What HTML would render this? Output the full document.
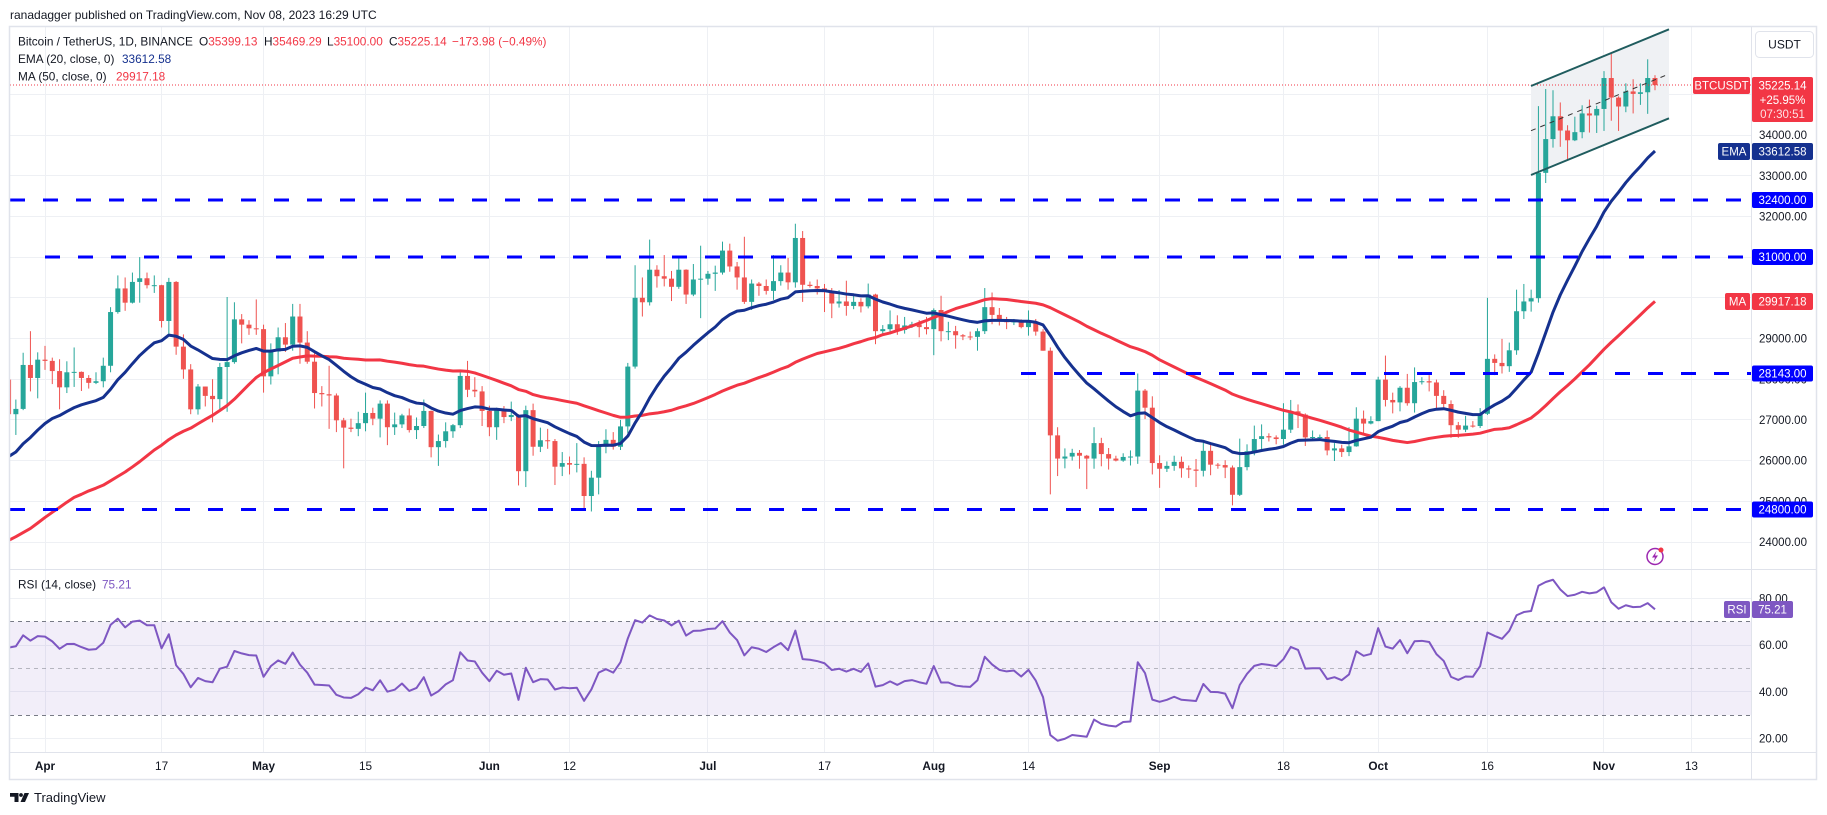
<!DOCTYPE html>
<html><head><meta charset="utf-8">
<style>
html,body{margin:0;padding:0;background:#fff;}
body{width:1827px;height:815px;overflow:hidden;position:relative;font-family:"Liberation Sans",sans-serif;color:#131722;}
svg{position:absolute;left:0;top:0;}
</style></head><body>
<svg id="c" width="1827" height="815" viewBox="0 0 1827 815" xmlns="http://www.w3.org/2000/svg" font-family="Liberation Sans, sans-serif">
<defs>
<clipPath id="pp"><rect x="10" y="27" width="1741" height="542"/></clipPath>
<clipPath id="rp"><rect x="10" y="570" width="1741" height="182"/></clipPath>
</defs>
<rect width="1827" height="815" fill="#fff"/>
<!-- grid -->
<g stroke="#eef0f4" stroke-width="1">
<line x1="10" x2="1751" y1="94.5" y2="94.5"/><line x1="10" x2="1751" y1="135.5" y2="135.5"/><line x1="10" x2="1751" y1="175.5" y2="175.5"/><line x1="10" x2="1751" y1="216.5" y2="216.5"/><line x1="10" x2="1751" y1="257.5" y2="257.5"/><line x1="10" x2="1751" y1="297.5" y2="297.5"/><line x1="10" x2="1751" y1="338.5" y2="338.5"/><line x1="10" x2="1751" y1="379.5" y2="379.5"/><line x1="10" x2="1751" y1="419.5" y2="419.5"/><line x1="10" x2="1751" y1="460.5" y2="460.5"/><line x1="10" x2="1751" y1="501.5" y2="501.5"/><line x1="10" x2="1751" y1="542.5" y2="542.5"/>
<line x1="10" x2="1751" y1="598.5" y2="598.5"/><line x1="10" x2="1751" y1="645.5" y2="645.5"/><line x1="10" x2="1751" y1="691.5" y2="691.5"/><line x1="10" x2="1751" y1="738.5" y2="738.5"/>
</g>
<g stroke="#eef0f4" stroke-width="1">
<line x1="45.5" x2="45.5" y1="27" y2="752"/><line x1="161.5" x2="161.5" y1="27" y2="752"/><line x1="263.5" x2="263.5" y1="27" y2="752"/><line x1="365.5" x2="365.5" y1="27" y2="752"/><line x1="489.5" x2="489.5" y1="27" y2="752"/><line x1="569.5" x2="569.5" y1="27" y2="752"/><line x1="707.5" x2="707.5" y1="27" y2="752"/><line x1="824.5" x2="824.5" y1="27" y2="752"/><line x1="933.5" x2="933.5" y1="27" y2="752"/><line x1="1028.5" x2="1028.5" y1="27" y2="752"/><line x1="1159.5" x2="1159.5" y1="27" y2="752"/><line x1="1283.5" x2="1283.5" y1="27" y2="752"/><line x1="1378.5" x2="1378.5" y1="27" y2="752"/><line x1="1487.5" x2="1487.5" y1="27" y2="752"/><line x1="1603.5" x2="1603.5" y1="27" y2="752"/><line x1="1691.5" x2="1691.5" y1="27" y2="752"/>
</g>
<!-- channel fill -->
<polygon points="1531,86 1669,29.3 1669,118.3 1531,175" fill="#eff1f4"/>
<g clip-path="url(#pp)">
<g id="candles"></g>
<path id="ma" fill="none" stroke="#f23645" stroke-width="3" stroke-linejoin="round"/>
<path id="ema" fill="none" stroke="#15318f" stroke-width="3" stroke-linejoin="round"/>
<!-- current price dotted -->
<line x1="10" x2="1751" y1="85" y2="85" stroke="#f23645" stroke-width="1" stroke-dasharray="1 2"/>
<!-- levels -->
<g stroke="#0000ff" stroke-width="3" stroke-dasharray="15 18">
<line x1="10" x2="1751" y1="200" y2="200"/>
<line x1="45" x2="1751" y1="257" y2="257"/>
<line x1="1021" x2="1751" y1="373.5" y2="373.5"/>
<line x1="10" x2="1751" y1="509.5" y2="509.5"/>
</g>
<!-- channel lines -->
<line x1="1531" y1="86" x2="1669" y2="29.3" stroke="#1f5c5e" stroke-width="2"/>
<line x1="1531" y1="175" x2="1669" y2="118.3" stroke="#1f5c5e" stroke-width="2"/>
<line x1="1531" y1="130.7" x2="1669" y2="74" stroke="#333" stroke-width="1" stroke-dasharray="5 5"/>
</g>
<!-- RSI pane -->
<rect x="10" y="621.6" width="1741" height="93.6" fill="#7e57c2" fill-opacity="0.1"/>
<g stroke-width="1" stroke-dasharray="4 4">
<line x1="10" x2="1751" y1="621.5" y2="621.5" stroke="#787b86"/>
<line x1="10" x2="1751" y1="668.5" y2="668.5" stroke="#787b86" stroke-opacity="0.5"/>
<line x1="10" x2="1751" y1="715.5" y2="715.5" stroke="#787b86"/>
</g>
<g clip-path="url(#rp)"><path id="rsi" fill="none" stroke="#7e57c2" stroke-width="2" stroke-linejoin="round"/></g>
<!-- frame -->
<g stroke="#e0e3eb" fill="none">
<rect x="9.5" y="26.5" width="1807" height="753" stroke-width="1.5"/>
<line x1="1751.5" x2="1751.5" y1="27" y2="780"/>
<line x1="10" x2="1817" y1="569.5" y2="569.5"/>
<line x1="10" x2="1817" y1="752.5" y2="752.5"/>
</g>
<!-- header -->
<text x="10" y="19" font-size="12" fill="#131722">ranadagger published on TradingView.com, Nov 08, 2023 16:29 UTC</text>
<g font-size="11.8" fill="#131722">
<text y="45.5"><tspan x="18">Bitcoin / TetherUS, 1D, BINANCE</tspan><tspan x="199">O</tspan><tspan fill="#f23645">35399.13</tspan><tspan x="264">H</tspan><tspan fill="#f23645">35469.29</tspan><tspan x="327">L</tspan><tspan fill="#f23645">35100.00</tspan><tspan x="389">C</tspan><tspan fill="#f23645">35225.14</tspan><tspan x="452" fill="#f23645">−173.98 (−0.49%)</tspan></text>
<text y="63"><tspan x="18">EMA (20, close, 0)</tspan><tspan x="122" fill="#15318f">33612.58</tspan></text>
<text y="80.5"><tspan x="18">MA (50, close, 0)</tspan><tspan x="116" fill="#f23645">29917.18</tspan></text>
<text y="588.5"><tspan x="18">RSI (14, close)</tspan><tspan x="102" fill="#7e57c2">75.21</tspan></text>
</g>
<!-- price axis labels -->
<g font-size="11.5" fill="#131722">
<text x="1759" y="139">34000.00</text>
<text x="1759" y="180">33000.00</text>
<text x="1759" y="220.5">32000.00</text>
<text x="1759" y="342.5">29000.00</text>
<text x="1759" y="383.5">28000.00</text>
<text x="1759" y="424">27000.00</text>
<text x="1759" y="464.7">26000.00</text>
<text x="1759" y="505.4">25000.00</text>
<text x="1759" y="546">24000.00</text>
<text x="1759" y="602.3">80.00</text>
<text x="1759" y="649">60.00</text>
<text x="1759" y="695.8">40.00</text>
<text x="1759" y="742.6">20.00</text>
</g>
<!-- USDT box -->
<rect x="1755.5" y="31.5" width="58" height="26" rx="4" fill="#fff" stroke="#e0e3eb"/>
<text x="1784.5" y="48.5" font-size="12" text-anchor="middle" fill="#131722">USDT</text>
<!-- axis tags -->
<g font-size="11.5" text-anchor="middle" fill="#fff">
<rect x="1693" y="77" width="57" height="17" rx="2" fill="#f23645"/><text x="1721.5" y="89.5">BTCUSDT</text>
<rect x="1752" y="77" width="61" height="45" rx="2" fill="#f23645"/>
<text x="1782.5" y="89.5">35225.14</text><text x="1782.5" y="104">+25.95%</text><text x="1782.5" y="118" fill-opacity="0.85">07:30:51</text>
<rect x="1718" y="143" width="32" height="17" rx="2" fill="#15318f"/><text x="1734" y="155.5">EMA</text>
<rect x="1752" y="143" width="61" height="17" rx="2" fill="#15318f"/><text x="1782.5" y="155.5">33612.58</text>
<rect x="1752" y="192" width="61" height="16" rx="2" fill="#0000ff"/><text x="1782.5" y="204">32400.00</text>
<rect x="1752" y="249" width="61" height="16" rx="2" fill="#0000ff"/><text x="1782.5" y="261">31000.00</text>
<rect x="1725" y="293" width="25" height="17" rx="2" fill="#f23645"/><text x="1737.5" y="305.5">MA</text>
<rect x="1752" y="293" width="61" height="17" rx="2" fill="#f23645"/><text x="1782.5" y="305.5">29917.18</text>
<rect x="1752" y="365.5" width="61" height="16" rx="2" fill="#0000ff"/><text x="1782.5" y="377.5">28143.00</text>
<rect x="1752" y="501.5" width="61" height="16" rx="2" fill="#0000ff"/><text x="1782.5" y="513.5">24800.00</text>
<rect x="1724" y="601" width="26" height="17" rx="2" fill="#7e57c2"/><text x="1737" y="613.5">RSI</text>
<rect x="1752" y="601" width="41" height="17" rx="2" fill="#7e57c2"/><text x="1772.5" y="613.5">75.21</text>
</g>
<!-- time axis -->
<g font-size="11.8" text-anchor="middle" fill="#131722">
<text x="45" y="770" font-weight="bold">Apr</text><text x="161.6" y="770">17</text>
<text x="263.6" y="770" font-weight="bold">May</text><text x="365.5" y="770">15</text>
<text x="489.4" y="770" font-weight="bold">Jun</text><text x="569.5" y="770">12</text>
<text x="707.9" y="770" font-weight="bold">Jul</text><text x="824.5" y="770">17</text>
<text x="933.8" y="770" font-weight="bold">Aug</text><text x="1028.5" y="770">14</text>
<text x="1159.6" y="770" font-weight="bold">Sep</text><text x="1283.5" y="770">18</text>
<text x="1378.2" y="770" font-weight="bold">Oct</text><text x="1487.4" y="770">16</text>
<text x="1603.9" y="770" font-weight="bold">Nov</text><text x="1691.4" y="770">13</text>
</g>
<!-- lightning icon -->
<circle cx="1655" cy="556.5" r="8" fill="#fff" stroke="#9c27b0" stroke-width="1.5"/>
<path d="M1656.5 551 L1652 557.5 L1655 557.5 L1653.5 562 L1658 555.5 L1655 555.5 Z" fill="#9c27b0"/>
<circle cx="1661" cy="550" r="2.5" fill="#f23645"/>
<!-- logo -->
<path d="M10 793h8.5v9h-4v-5.2h-4.5z" fill="#131722"/>
<circle cx="21" cy="795" r="1.9" fill="#131722"/>
<polygon points="24.5,793 29,793 25,802 20.5,802" fill="#131722"/>
<text x="34" y="802" font-size="13" fill="#131722">TradingView</text>
</svg>
<script>
(function(){
var pre=[22930,22760,23260,22960,21800,21630,21860,21780,21780,22200,24330,23740,24570,24630,24280,24840,24450,24190,23950,23190,23160,23560,23490,23140,
23650,23470,22360,22350,22430,22410,22200,21700,20360,20190,20630,22140,24200,24770,24370,25060,27420,26970,28040,27770,28180,27310,28330,27490,27490,28000];
var D=[
[27990,28040,26550,27140],[27140,27500,26630,27270],[27270,28650,27240,28350],[28350,29180,27700,28030],[28030,28660,27530,28480],
[28480,28820,28230,28450],[28450,28530,27880,28200],[28200,28490,27260,27800],[27800,28440,27660,28170],[28170,28780,27810,28180],
[28180,28190,27710,28030],[28030,28100,27770,27910],[27910,28170,27880,27950],[27950,28530,27800,28330],[28330,29770,28170,29650],
[29650,30550,29610,30230],[30230,30500,29680,29880],[29880,30620,29860,30390],[30390,31000,29880,30480],[30480,30620,30230,30310],
[30310,30550,30120,30310],[30310,30320,29270,29430],[29430,30490,29090,30390],[30390,30410,28600,28800],[28800,29100,28010,28240],
[28240,28370,27140,27260],[27260,27880,27130,27820],[27820,27820,27330,27590],[27590,28000,26940,27510],[27510,28400,27200,28300],
[28300,30020,27200,28420],[28420,29890,28380,29470],[29470,29600,28880,29340],[29340,29450,29090,29250],[29250,29960,29090,29230],
[29230,29340,27670,28070],[28070,28880,27870,28680],[28680,29270,28120,29030],[29030,29380,28670,28850],[28850,29850,28700,29540],
[29540,29850,28380,28900],[28900,29180,28380,28430],[28430,28660,27280,27660],[27660,27830,27330,27630],[27630,28330,26780,27600],
[27600,27650,26700,26990],[26990,27050,25810,26810],[26810,27030,26700,26780],[26780,27200,26600,26920],[26920,27670,26720,27170],
[27170,27300,26870,27030],[27030,27480,26570,27400],[27400,27480,26380,26820],[26820,27180,26630,26890],[26890,27150,26800,27110],
[27110,27280,26690,26750],[26750,27060,26530,26850],[26850,27500,26800,27220],[27220,27230,26080,26330],[26330,26640,25870,26480],
[26480,26940,26320,26720],[26720,26900,26560,26870],[26870,28200,26800,28080],[28080,28450,27560,27740],[27740,28050,27560,27700],
[27700,27830,26850,27220],
[27220,27350,26600,26820],[26820,27300,26510,27250],[27250,27340,26920,27070],[27070,27450,26970,27120],[27120,27140,25390,25740],
[25740,27350,25350,27240],[27240,27400,26120,26340],[26340,26810,26210,26500],[26500,26780,26290,26480],[26480,26530,25400,25850],
[25850,26210,25620,25940],[25940,26100,25660,25900],[25900,26430,25710,25920],[25920,26080,24820,25130],[25130,25750,24750,25580],
[25580,26480,25170,26340],[26340,26770,26180,26510],[26510,26700,26270,26340],[26340,27000,26260,26840],[26840,28400,26670,28310],
[28310,30800,28260,30000],[30000,30500,29540,29890],[29890,31430,29810,30690],[30690,30800,30250,30530],[30530,31050,30280,30470],
[30470,30660,29920,30270],[30270,31000,30220,30690],[30690,30700,29850,30080],[30080,30830,30040,30450],[30450,31280,29500,30470],
[30470,30660,30320,30590],[30590,30790,30170,30620],[30620,31380,30570,31160],[31160,31330,30640,30770],[30770,30880,30200,30500],
[30500,31500,29850,29900],[29900,30450,29700,30350],[30350,30390,30050,30290],[30290,30450,30080,30170],[30170,31050,29950,30410],
[30410,30800,30300,30620],[30620,30980,30200,30380],[30380,31820,30250,31470],[31470,31640,29900,30320],[30320,30400,30250,30290],
[30290,30450,30080,30230],[30230,30340,29650,30140],[30140,30240,29500,29860],[29860,30190,29760,29910],[29910,30420,29560,29800],
[29800,30050,29720,29900],[29900,29990,29640,29790],[29790,30350,29740,30080],[30080,30100,28860,29180],[29180,29330,29060,29230],
[29230,29690,29100,29350],[29350,29570,29090,29210],[29210,29530,29120,29320],[29320,29410,29260,29350],[29350,29450,29030,29280],
[29280,29530,29100,29230],
[29230,29740,28590,29700],[29700,30050,28930,29180],[29180,29410,28960,29180],[29180,29310,28750,29080],[29080,29110,28960,29050],
[29050,29170,28960,29040],[29040,29250,28700,29180],[29180,30240,29110,29770],[29770,30130,29350,29580],[29580,29750,29320,29440],
[29440,29530,29230,29400],[29400,29480,29330,29420],[29420,29470,29250,29280],[29280,29690,29070,29420],[29420,29480,29070,29170],
[29170,29230,28700,28700],[28700,28780,25170,26620],[26620,26820,25620,26050],[26050,26300,25810,26100],[26100,26290,26000,26190],
[26190,26260,25800,26120],[26120,26140,25300,26050],[26050,26820,25800,26430],[26430,26560,25860,26160],[26160,26310,25780,26050],
[26050,26120,25980,26000],[26000,26180,25970,26090],[26090,26250,25880,26100],[26100,28140,25920,27720],[27720,27760,27020,27300],
[27300,27580,25660,25940],
[25940,26130,25330,25800],[25800,25980,25720,25870],[25870,26120,25750,25970],[25970,26100,25580,25810],[25810,25880,25570,25780],
[25780,26040,25350,25750],[25750,26440,25610,26240],[26240,26420,25640,25900],[25900,25940,25800,25890],[25890,26010,25570,25830],
[25830,25880,24900,25160],[25160,26540,25130,25840],[25840,26400,25760,26230],[26230,26860,26130,26530],[26530,26890,26220,26600],
[26600,26670,26470,26570],[26570,26620,26400,26530],[26530,27410,26390,26760],[26760,27490,26680,27210],[27210,27380,26800,27130],
[27130,27160,26360,26570],[26570,26740,26490,26580],[26580,26640,26500,26580],[26580,26740,26130,26250],[26250,26430,25990,26300],
[26300,26390,26090,26210],[26210,26820,26110,26350],[26350,27310,26340,27030],[27030,27230,26660,26910],[26910,27090,26890,26970],
[26970,28060,26970,27990],[27990,28580,27330,27490],[27490,27670,27160,27430],[27430,27830,27210,27790],[27790,28130,27350,27410],
[27410,28290,27180,27930],[27930,28050,27870,27950],[27950,28100,27700,27920],[27920,27990,27260,27590],[27590,27730,27300,27390],
[27390,27480,26560,26870],[26870,26950,26560,26760],[26760,27100,26700,26860],[26860,26970,26810,26850],[26850,27290,26800,27150],
[27150,30000,27120,28500],[28500,28610,28100,28400],[28400,28990,28140,28320],[28320,28900,28180,28710],[28710,30200,28600,29670],
[29670,30340,29480,29910],[29910,30200,29660,29990],[29990,34710,29880,33070],[33070,35130,32820,33900],[33900,35100,33690,34460],
[34460,34800,33710,34110],[34110,34240,33380,33870],[33870,34450,33850,34070],[34070,34730,33920,34530],[34530,34870,34060,34480],
[34480,34720,34050,34640],
[34640,35570,34100,35400],[35400,35990,34350,34920],[34920,34950,34100,34700],[34700,35270,34560,35070],[35070,35370,34530,35010],
[35010,35270,34740,35050],[35050,35860,34520,35400],[35400,35470,35100,35225]
];
var NS="http://www.w3.org/2000/svg";
function el(t,a,p){var e=document.createElementNS(NS,t);for(var k in a)e.setAttribute(k,a[k]);p.appendChild(e);return e;}
function X(i){return 8.575+i*7.285;}
function Y(p){return 135+(34000-p)*0.0407;}
function R(r){return 645-(r-60)*2.34;}
var cg=document.getElementById('candles');
for(var i=0;i<D.length;i++){
  var o=D[i][0],h=D[i][1],l=D[i][2],c=D[i][3];
  var col=c>=o?'#26a69a':'#ef5350';var x=X(i);
  el('line',{x1:x,x2:x,y1:Y(h),y2:Y(l),stroke:col,'stroke-width':1},cg);
  var y1=Y(Math.max(o,c)),y2=Y(Math.min(o,c));
  el('rect',{x:x-2.5,y:y1,width:5,height:Math.max(1,y2-y1),fill:col},cg);
}
var cl=pre.concat(D.map(function(d){return d[3];}));
var N=pre.length;
var ema=[],e=0,k;for(k=0;k<20;k++)e+=cl[k];e/=20;ema[19]=e;
for(k=20;k<cl.length;k++){e=cl[k]*2/21+e*19/21;ema[k]=e;}
var sma=[];for(k=49;k<cl.length;k++){var s=0;for(var j=k-49;j<=k;j++)s+=cl[j];sma[k]=s/50;}
var ag=0,al=0;for(k=1;k<=14;k++){var ch=cl[k]-cl[k-1];if(ch>0)ag+=ch;else al-=ch;}ag/=14;al/=14;
var rsi=[];for(k=15;k<cl.length;k++){var ch2=cl[k]-cl[k-1];ag=(ag*13+Math.max(ch2,0))/14;al=(al*13+Math.max(-ch2,0))/14;rsi[k]=al==0?100:100-100/(1+ag/al);}
var pe='',pm='',pr='';
for(k=N-2;k<cl.length;k++){var xi=X(k-N);var cmd=(k==N-2)?'M':'L';
 pe+=cmd+xi.toFixed(2)+' '+Y(ema[k]).toFixed(2);
 pr+=cmd+xi.toFixed(2)+' '+R(rsi[k]).toFixed(2);}
for(k=49;k<cl.length;k++){var xm=X(k-N);pm+=(k==49?'M':'L')+xm.toFixed(2)+' '+Y(sma[k]).toFixed(2);}
document.getElementById('ema').setAttribute('d',pe);
document.getElementById('ma').setAttribute('d',pm);
document.getElementById('rsi').setAttribute('d',pr);
})();
</script>
</body></html>
